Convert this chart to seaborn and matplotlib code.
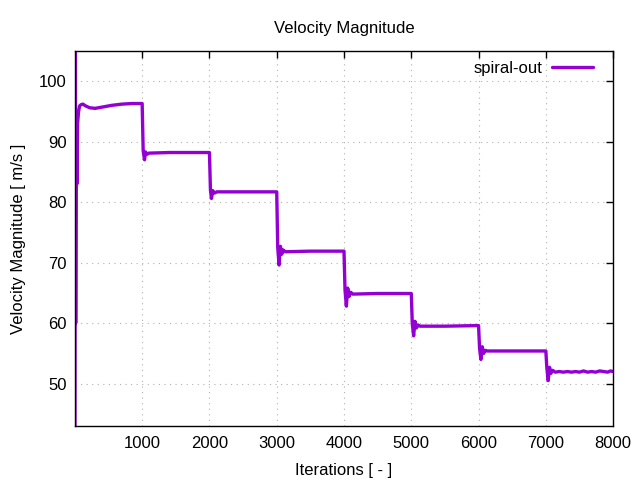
import numpy as np
import pandas as pd
import seaborn as sns
import matplotlib.pyplot as plt

# значения
iterations = [0, 6, 12, 20, 30, 40, 55, 70, 90, 120, 160, 220, 300, 400, 550, 700, 850, 1000,
              1015, 1035, 1050, 1070, 1100, 1400, 2000,
              2015, 2030, 2050, 2075, 2110, 2500, 3000,
              3015, 3035, 3055, 3075, 3095, 3130, 3500, 4000,
              4015, 4035, 4055, 4075, 4100, 4130, 4500, 5000,
              5015, 5035, 5055, 5075, 5100, 5130, 5500, 6000,
              6015, 6035, 6055, 6075, 6100, 6130, 6500, 7000,
              7015, 7035, 7055, 7075, 7100, 7140, 7200, 7260, 7320, 7380, 7440,
              7500, 7560, 7620, 7680, 7740, 7800, 7860, 7920, 7960, 8000]
velocity = [20.0, 130.0, 60.0, 91.0, 83.0, 93.0, 95.0, 95.9, 96.1, 96.2, 95.9, 95.6, 95.5, 95.7, 96.0, 96.2, 96.3, 96.3,
            88.5, 87.0, 88.3, 87.9, 88.1, 88.2, 88.2,
            82.0, 80.6, 81.9, 81.5, 81.7, 81.7, 81.7,
            72.5, 69.6, 72.7, 71.4, 72.1, 71.8, 71.9, 71.9,
            65.5, 62.8, 65.8, 64.4, 65.1, 64.8, 64.9, 64.9,
            59.9, 57.9, 60.3, 59.2, 59.7, 59.5, 59.5, 59.6,
            55.8, 54.0, 56.1, 55.0, 55.5, 55.4, 55.4, 55.4,
            52.6, 50.5, 52.7, 51.7, 52.2, 51.9, 52.0, 51.9, 52.0, 51.9, 52.0,
            51.9, 52.1, 51.9, 52.0, 51.9, 52.1, 52.0, 51.9, 52.1, 52.0]

df = pd.DataFrame({'Iterations': iterations, 'Velocity': velocity})

sns.set_style('white')
plt.rcParams['font.family'] = ['Liberation Sans', 'DejaVu Sans']
plt.rcParams['text.color'] = 'black'
plt.rcParams['axes.labelcolor'] = 'black'

fig = plt.figure(figsize=(6.4, 4.8), dpi=100)
ax = fig.add_axes([0.117, 0.1125, 0.841, 0.7815])

sns.lineplot(data=df, x='Iterations', y='Velocity', ax=ax, color='#9400D3',
             linewidth=2.4, estimator=None, sort=False, label='spiral-out')

ax.set_xlim(0, 8000)
ax.set_ylim(43, 105)
ax.set_xticks(np.arange(1000, 8001, 1000))
ax.set_yticks(np.arange(50, 101, 10))
ax.tick_params(direction='in', top=True, right=True, length=5, width=1,
               labelsize=12, colors='black')
ax.tick_params(axis='x', pad=7)
ax.tick_params(axis='y', pad=6)
ax.grid(True, color='#b0b0b0', linestyle=(0, (1, 4)), linewidth=0.8)
for s in ax.spines.values():
    s.set_color('black')
    s.set_linewidth(1)

ax.set_xlabel('Iterations [ - ]', fontsize=12, labelpad=9)
ax.set_ylabel('Velocity Magnitude [ m/s ]', fontsize=12, labelpad=9)
ax.set_title('Velocity Magnitude', fontsize=12, pad=13, color='black')

ax.legend(loc='upper right', frameon=False, markerfirst=False, fontsize=12,
          handlelength=2.5, handletextpad=0.55, borderaxespad=0.2,
          bbox_to_anchor=(0.982, 1.0), labelcolor='black')

plt.savefig('out.png', dpi=100)
